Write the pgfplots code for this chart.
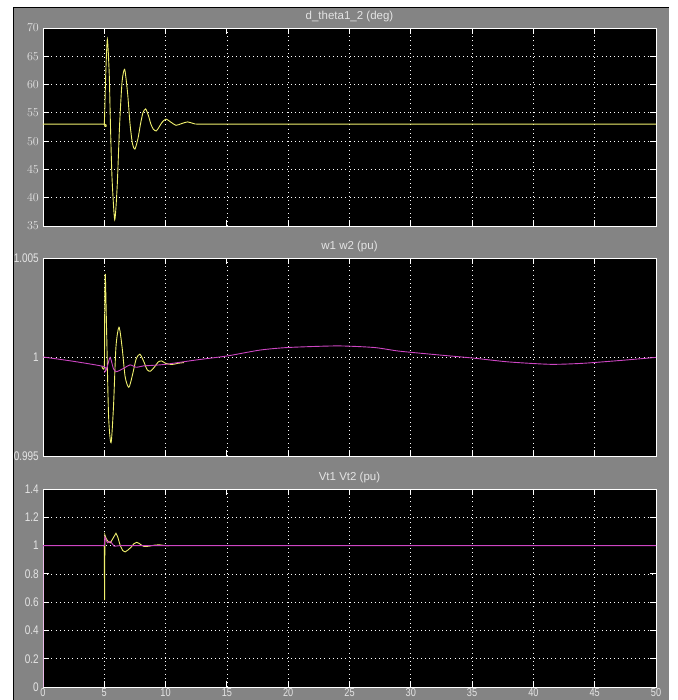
\documentclass[border=0pt]{standalone}
\usepackage{pgfplots}
\pgfplotsset{compat=1.18}
\usepackage{fontspec}
\setmainfont{Liberation Sans}
\newfontfamily\scopefont[FakeStretch=0.8]{Liberation Sans}
\newfontfamily\titlefont{Liberation Sans}
\definecolor{scopegray}{RGB}{132,132,132}
\definecolor{labgray}{RGB}{228,228,228}
\definecolor{lineyellow}{RGB}{240,240,110}
\definecolor{linemag}{RGB}{205,70,195}
\pgfplotsset{
  scopeaxis/.style={
    scale only axis, width=613pt, height=198pt,
    anchor=south west,
    xmin=0, xmax=50,
    axis background/.style={fill=black},
    axis line style={white, line width=0.9pt},
    xtick={0,5,...,50},
    grid=major,
    major grid style={white, line width=0.7pt, dash pattern=on 0.8pt off 3.4pt},
    tick style={white, line width=0.9pt},
    major tick length=6pt, tick align=inside,
    tick label style={font=\scopefont\fontsize{12.5}{13}\selectfont, text=labgray},
    yticklabel style={anchor=east, inner sep=0pt, xshift=-4pt},
    xticklabel style={font=\scopefont\fontsize{11.5}{12}\selectfont, anchor=north, inner sep=0pt, yshift=-1.5pt},
    title style={font=\titlefont\fontsize{11.5}{12}\selectfont, text=labgray, at={(0.5,1)}, anchor=base, yshift=2pt},
    every axis plot/.append style={line width=0.9pt},
  }
}
\begin{document}
\begin{tikzpicture}[x=1pt,y=1pt]
\useasboundingbox (0,0) rectangle (677,700);
\fill[white] (0,0) rectangle (677,700);
\fill[scopegray] (14,0) rectangle (669,692);
\draw[black, line width=1pt] (13.5,0) -- (13.5,692.5) -- (669,692.5);

% ---------- plot 1 ----------
\begin{axis}[scopeaxis, at={(43pt,474pt)},
  title={d\_theta1\_2 (deg)},
  ymin=35, ymax=70, ytick={35,40,...,70},
  xticklabels={}]
\addplot[lineyellow, smooth, tension=0.4] coordinates {
(0,53) (4.9,53) (5,53) (5.12,62) (5.25,68) (5.4,62) (5.5,53) (5.63,43.5) (5.85,36.1)
(6.05,42) (6.25,53) (6.45,60.5) (6.66,62.7) (6.9,58.5) (7.1,53) (7.3,49.5) (7.5,48.6)
(7.75,50.5) (7.95,53) (8.15,55) (8.37,55.7) (8.6,54.5) (8.8,53) (9.0,52.1) (9.24,51.8)
(9.5,52.6) (9.7,53.3) (10.03,53.9) (10.4,53.4) (10.85,52.8) (11.3,53.1) (11.8,53.4)
(12.3,53.1) (13,53) (20,53) (30,53) (40,53) (50,53)};
\end{axis}

% ---------- plot 2 ----------
\begin{axis}[scopeaxis, at={(43pt,244pt)},
  title={w1 w2 (pu)},
  ymin=0.995, ymax=1.005, ytick={0.995,1,1.005},
  yticklabels={0.995,1,1.005},
  xticklabels={}]
\addplot[lineyellow, smooth, tension=0.45] coordinates {
(4.8,0.99953) (5,0.99951) (5.03,1.0020) (5.08,1.0042) (5.2,1.0010) (5.35,0.9970)
(5.55,0.99567) (5.75,0.9975) (5.95,1.0005) (6.2,1.0015) (6.45,1.0005) (6.7,0.9990)
(7.0,0.99847) (7.3,0.9991) (7.6,0.9999) (7.9,1.00014) (8.2,0.9998) (8.5,0.99935)
(8.78,0.99929) (9.1,0.9995) (9.4,0.99975) (9.68,0.9998) (10.0,0.99968) (10.5,0.99962)
(11,0.99968) (11.5,0.99972)};
\addplot[linemag, smooth, tension=0.4] coordinates {
(0,1.0) (2.5,0.99978) (5,0.99951) (5.05,0.99926) (5.2,0.9994) (5.47,0.99998) (5.75,0.9994)
(6.0,0.99926) (6.5,0.9994) (7.1,0.9996) (7.6,0.99948) (8.2,0.99955) (9,0.99958)
(10,0.99963) (12.5,0.99985) (15,1.00005) (17.7,1.00035) (20,1.00048) (24,1.00056)
(27,1.00048) (29,1.00030) (32,1.00012) (35,0.99995) (38,0.99975) (41.4,0.99963)
(44,0.99968) (47,0.99982) (50,0.99998)};
\end{axis}

% ---------- plot 3 ----------
\begin{axis}[scopeaxis, at={(43pt,13pt)},
  title={Vt1 Vt2 (pu)},
  ymin=0, ymax=1.4, ytick={0,0.2,0.4,0.6,0.8,1,1.2,1.4},
  yticklabels={0,0.2,0.4,0.6,0.8,1,1.2,1.4},
  xticklabels={0,5,10,15,20,25,30,35,40,45,50}]
\addplot[lineyellow] coordinates {
(4.9,1) (5,1) (5.02,0.615) (5.05,1.075) (5.15,1.05) (5.3,1.03) (5.5,1.02) (5.7,1.05)
(5.95,1.087) (6.1,1.06) (6.3,1.0) (6.5,0.965) (6.7,0.955) (6.95,0.97) (7.2,0.99)
(7.4,1.012) (7.64,1.023) (7.85,1.015) (8.0,1.005) (8.2,0.995) (8.4,0.993) (8.65,0.996)
(8.9,1.0) (9.2,1.004) (9.5,1.005) (10,1.0) (10.3,1.0)};
\addplot[linemag] coordinates {
(0,0) (0,1) (5,1) (5.05,1.06) (5.25,1.02) (5.5,1.03) (5.8,0.995) (6.3,1.0) (50,1)};
\end{axis}
\end{tikzpicture}
\end{document}
